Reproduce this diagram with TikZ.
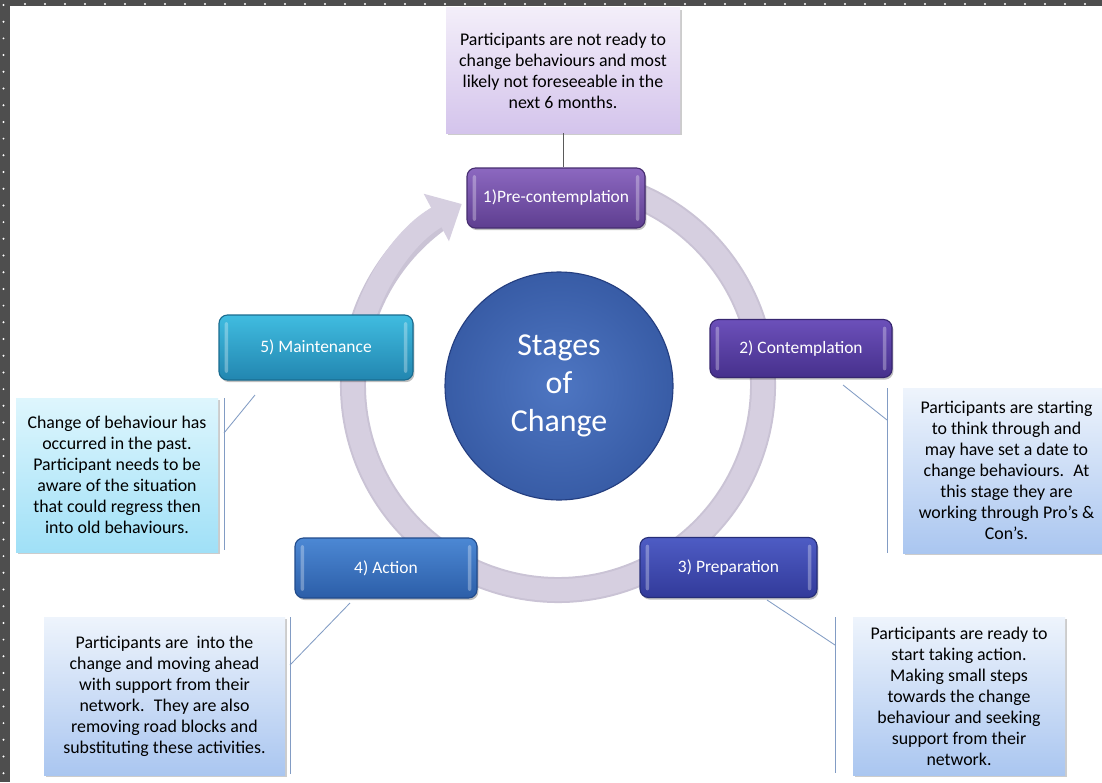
\documentclass[tikz,border=0pt]{standalone}
\usepackage{fontspec}
\setmainfont{Carlito}
\usetikzlibrary{arrows.meta,shadows}

\newlength{\pxu}
\setlength{\pxu}{0.025cm}

\definecolor{marco}{RGB}{78,78,78}
\definecolor{anillo}{RGB}{214,207,224}
\definecolor{anilloborde}{RGB}{202,195,213}
\definecolor{guiacol}{RGB}{130,156,196}
\definecolor{guiaoscura}{RGB}{90,90,90}
% colores de las etapas
\definecolor{unoA}{RGB}{140,104,192}\definecolor{unoB}{RGB}{94,62,144}\definecolor{unoC}{RGB}{70,45,112}
\definecolor{dosA}{RGB}{108,80,186}\definecolor{dosB}{RGB}{70,48,140}\definecolor{dosC}{RGB}{55,38,112}
\definecolor{tresA}{RGB}{78,92,196}\definecolor{tresB}{RGB}{50,58,154}\definecolor{tresC}{RGB}{38,46,120}
\definecolor{cuatroA}{RGB}{76,136,212}\definecolor{cuatroB}{RGB}{44,94,168}\definecolor{cuatroC}{RGB}{34,76,140}
\definecolor{cincoA}{RGB}{64,188,224}\definecolor{cincoB}{RGB}{34,134,176}\definecolor{cincoC}{RGB}{26,108,144}
% colores de las notas
\definecolor{lilaA}{RGB}{243,238,249}\definecolor{lilaB}{RGB}{212,196,236}
\definecolor{azulA}{RGB}{238,244,252}\definecolor{azulB}{RGB}{170,198,240}
\definecolor{cianA}{RGB}{222,246,253}\definecolor{cianB}{RGB}{160,224,247}
% circulo central
\definecolor{circA}{RGB}{78,118,194}\definecolor{circB}{RGB}{56,92,166}\definecolor{circC}{RGB}{36,62,128}
\pgfdeclareradialshading{bola}{\pgfpoint{0bp}{0bp}}{color(0bp)=(circA); color(25bp)=(circB); color(47bp)=(circC); color(50bp)=(circC)}

\tikzset{
  etapa/.style={rectangle, rounded corners=6pt, text=white, line width=0.8pt,
    font=\fontsize{12.4}{14}\selectfont,
    drop shadow={shadow xshift=1pt, shadow yshift=-1.5pt, opacity=0.25, fill=black},
    path picture={
      \fill[white, opacity=0.3, rounded corners=1.5pt]
        ([xshift=4pt, yshift=-5pt]path picture bounding box.north west) rectangle
        ([xshift=6.5pt, yshift=5pt]path picture bounding box.south west);
      \fill[white, opacity=0.3, rounded corners=1.5pt]
        ([xshift=-4pt, yshift=-5pt]path picture bounding box.north east) rectangle
        ([xshift=-6.5pt, yshift=5pt]path picture bounding box.south east);
    }},
  nota/.style={rectangle, align=center, font=\fontsize{12.7}{14.9}\selectfont,
    drop shadow={shadow xshift=1.2pt, shadow yshift=-1.2pt, opacity=0.2, fill=black}},
  guia/.style={draw=guiacol, line width=0.6pt},
}

\begin{document}
\begin{tikzpicture}[x=0.025cm, y=0.025cm]
  \clip (0,0) rectangle (1102,-782);
  \fill[white] (0,0) rectangle (1102,-782);

  % Dibujar el marco punteado
  \fill[marco] (0,0) rectangle (1102,-6);
  \fill[marco] (0,0) rectangle (10,-782);
  \foreach \x in {25,45,...,1100}
    \fill[white] (\x,-4) circle (1.1);
  \foreach \y in {5,21.7,...,782}
    \fill[white] (3.5,-\y) circle (1.1);

  % Dibujar el anillo con la flecha
  \draw[anilloborde, line width=26\pxu] (558,-385) ++(80:205) arc[start angle=80, end angle=-234, radius=205];
  \draw[anillo, line width=22\pxu, -{Triangle[length=0.72cm, width=1.3cm]}]
    (558,-385) ++(80:205) arc[start angle=80, end angle=-242, radius=205];

  % Circulo central
  \node[circle, minimum size=228\pxu, shading=bola, draw=circC, line width=0.8pt,
    text=white, align=center, font=\fontsize{22.7}{27}\selectfont] (centro) at (559,-386) {Stages\\of\\Change};

  % Dibujar las etapas
  \node[etapa, minimum width=178\pxu, minimum height=60\pxu, top color=unoA, bottom color=unoB, draw=unoC]
    (pre) at (556,-198) {1)Pre-contemplation};
  \node[etapa, minimum width=182\pxu, minimum height=58\pxu, top color=dosA, bottom color=dosB, draw=dosC]
    (cont) at (801,-348.5) {2) Contemplation};
  \node[etapa, minimum width=177\pxu, minimum height=60\pxu, top color=tresA, bottom color=tresB, draw=tresC]
    (prep) at (728.5,-567.5) {3) Preparation};
  \node[etapa, minimum width=182\pxu, minimum height=60\pxu, top color=cuatroA, bottom color=cuatroB, draw=cuatroC]
    (accion) at (386,-568) {4) Action};
  \node[etapa, minimum width=194\pxu, minimum height=65\pxu, top color=cincoA, bottom color=cincoB, draw=cincoC]
    (mant) at (316,-347.5) {5) Maintenance};

  % Dibujar las notas
  \node[nota, minimum width=234\pxu, minimum height=125\pxu, top color=lilaA, bottom color=lilaB]
    (nota1) at (563,-70.5) {Participants are not ready to\\change behaviours and most\\likely not foreseeable in the\\next 6 months.};
  \node[nota, minimum width=207\pxu, minimum height=165\pxu, top color=azulA, bottom color=azulB]
    (nota2) at (1006.5,-470.5) {Participants are starting\\to think through and\\may have set a date to\\change behaviours.~ At\\this stage they are\\working through Pro’s \&\\Con’s.};
  \node[nota, minimum width=212\pxu, minimum height=158\pxu, top color=azulA, bottom color=azulB]
    (nota3) at (959,-696) {Participants are ready to\\start taking action.\\Making small steps\\towards the change\\behaviour and seeking\\support from their\\network.};
  \node[nota, minimum width=241\pxu, minimum height=158\pxu, top color=azulA, bottom color=azulB]
    (nota4) at (164.5,-696) {Participants are~ into the\\change and moving ahead\\with support from their\\network.~ They are also\\removing road blocks and\\substituting these activities.};
  \node[nota, minimum width=202\pxu, minimum height=154\pxu, top color=cianA, bottom color=cianB]
    (nota5) at (117,-475) {Change of behaviour has\\occurred in the past.\\Participant needs to be\\aware of the situation\\that could regress then\\into old behaviours.};

  % Dibujar las guias
  \draw[guiaoscura, line width=0.6pt] (nota1.south) -- (nota1.south |- pre.north);

  \coordinate (d2) at (843,-385);
  \coordinate (k2) at (887,-420);
  \draw[guia] (d2) -- (k2);
  \draw[guia] (887,-388) -- (887,-553);

  \coordinate (d3) at (767,-600);
  \coordinate (k3) at (835,-645);
  \draw[guia] (d3) -- (k3);
  \draw[guia] (835,-617) -- (835,-773);

  \coordinate (d4) at (350,-603);
  \coordinate (k4) at (290,-665);
  \draw[guia] (d4) -- (k4);
  \draw[guia] (290,-617) -- (290,-774);

  \coordinate (d5) at (255,-395);
  \coordinate (k5) at (224,-433);
  \draw[guia] (d5) -- (k5);
  \draw[guia] (224,-398) -- (224,-550);
\end{tikzpicture}
\end{document}
